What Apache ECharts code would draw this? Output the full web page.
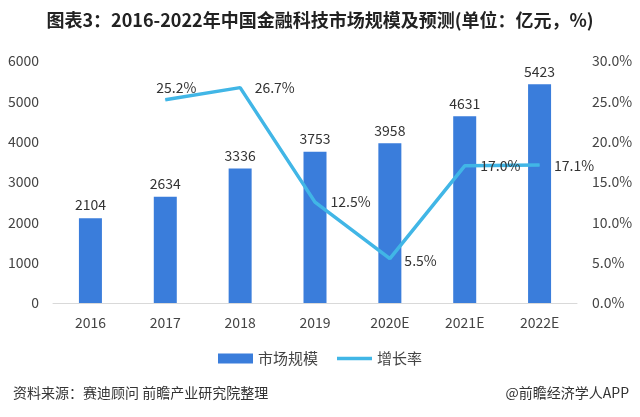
<!DOCTYPE html>
<html><head><meta charset="utf-8">
<script src="https://cdn.jsdelivr.net/npm/echarts@6/dist/echarts.min.js"></script>
<style>html,body{margin:0;padding:0;background:#fff}#c{width:640px;height:417px}</style>
</head><body><div id="c"></div>
<script>
const categories = ['2016','2017','2018','2019','2020E','2021E','2022E'];
const marketSize = [2104, 2634, 3336, 3753, 3958, 4631, 5423];
const growthRate = [null, 25.2, 26.7, 12.5, 5.5, 17.0, 17.1];
const leftTicks = [0, 6000, 1000];
const rightTicks = [0, 30, 5];

const F = '"Noto Sans CJK SC", "Noto Sans", sans-serif';
const chart = echarts.init(document.getElementById('c'));
const labelPos = ['right', 'top', 'right', 'right', 'right', 'right', 'right'];
const labelDist = [0, 5, 14, 15, 14, 15, 14];
const labelOff = [[0,0], [11,0], [0,0], [0,0], [0,2], [0,0], [0,1]];
chart.setOption({
  animation: false,
  textStyle: {fontFamily: F},
  title: [{
    text: '图表3：2016-2022年中国金融科技市场规模及预测(单位：亿元，%)',
    left: 'center', top: 6,
    textStyle: {fontSize: 18, fontWeight: 'bold', color: '#222', fontFamily: F}
  },{
    text: '资料来源：赛迪顾问 前瞻产业研究院整理',
    left: 8, top: 381,
    textStyle: {fontSize: 14, fontWeight: 'normal', color: '#333', fontFamily: F}
  },{
    text: '@前瞻经济学人APP',
    right: 6, top: 381,
    textStyle: {fontSize: 14, fontWeight: 'normal', color: '#333', fontFamily: F}
  }],
  legend: {
    bottom: 46, left: 'center', itemGap: 19, itemWidth: 35, itemHeight: 10,
    textStyle: {fontSize: 15, color: '#444', fontFamily: F},
    data: [{name: '市场规模', icon: 'rect'}, {name: '增长率', icon: 'path://M0,0 L38,0 L38,4 L0,4 Z'}]
  },
  grid: {left: 53, right: 63, top: 61, bottom: 114},
  xAxis: {
    type: 'category', data: categories,
    axisLine: {lineStyle: {color: '#d9d9d9'}},
    axisTick: {show: false},
    axisLabel: {fontSize: 14, color: '#444', margin: 13}
  },
  yAxis: [{
    type: 'value', min: leftTicks[0], max: leftTicks[1], interval: leftTicks[2],
    axisLine: {show: false}, axisTick: {show: false}, splitLine: {show: false},
    axisLabel: {fontSize: 14, color: '#444', margin: 14, formatter: v => String(v)}
  },{
    type: 'value', min: rightTicks[0], max: rightTicks[1], interval: rightTicks[2],
    axisLine: {show: false}, axisTick: {show: false}, splitLine: {show: false},
    axisLabel: {fontSize: 14, color: '#444', margin: 15, formatter: v => v.toFixed(1) + '%'}
  }],
  series: [{
    name: '市场规模', type: 'bar', data: marketSize, barWidth: 23,
    itemStyle: {color: '#3a7ddb'},
    label: {show: true, position: 'top', fontSize: 14, color: '#333', distance: 6}
  },{
    name: '增长率', type: 'line', yAxisIndex: 1, smooth: false,
    symbol: 'circle', symbolSize: 1, showSymbol: true, connectNulls: false,
    lineStyle: {color: '#41b6e6', width: 3.5},
    itemStyle: {color: '#41b6e6'},
    label: {show: true, color: '#333', fontSize: 14},
    data: growthRate.map((v, i) => ({
      value: v,
      label: {show: v !== null, position: labelPos[i], formatter: p => p.value.toFixed(1) + '%',
        fontSize: 14, color: '#333', distance: labelDist[i], offset: labelOff[i]}
    }))
  }]
});
</script></body></html>
